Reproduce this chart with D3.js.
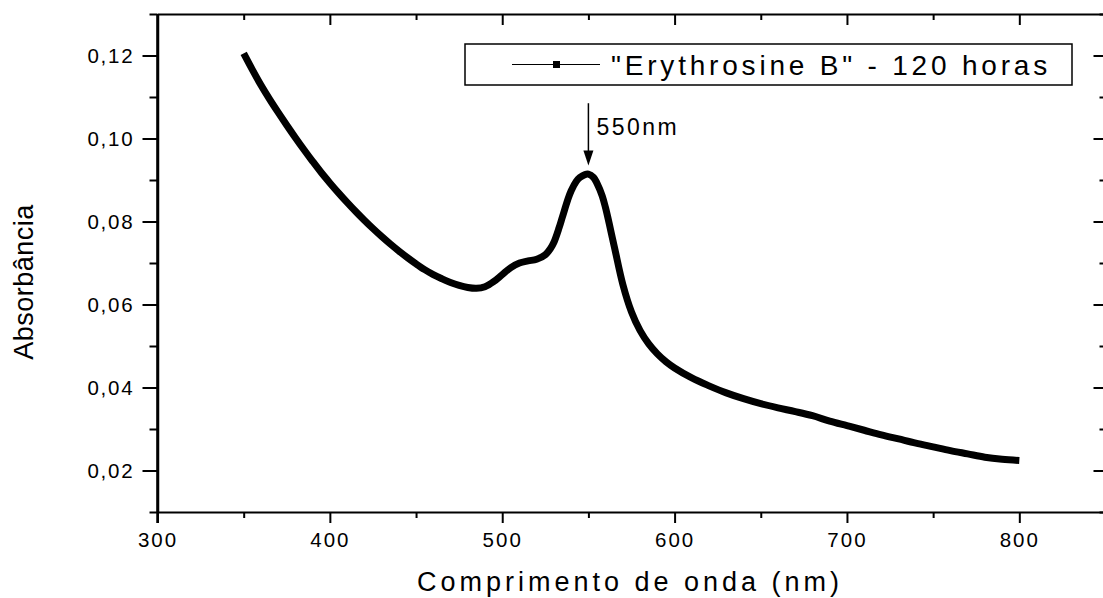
<!DOCTYPE html>
<html>
<head>
<meta charset="utf-8">
<script src="https://cdn.jsdelivr.net/npm/d3@7"></script>
<style>
  html, body { margin: 0; padding: 0; background: #fff; }
  svg { display: block; font-family: Arial, "Liberation Sans", sans-serif; }
</style>
</head>
<body>
<svg id="chart" width="1103" height="598"></svg>
<script>
// UV-Vis absorption spectrum, Erythrosine B after 120 h
const wavelength = [
  350, 355, 360, 365, 370, 375, 380, 385, 390, 395,
  400, 405, 410, 415, 420, 425, 430, 435, 440, 445,
  450, 455, 460, 465, 470, 475, 480, 485, 490, 495,
  500, 505, 510, 515, 520, 525, 528, 530, 533, 535,
  538, 540, 543, 545, 548, 550, 553, 555, 558, 560,
  565, 570, 575, 580, 585, 590, 595, 600, 610, 620,
  630, 640, 650, 660, 670, 680, 690, 700, 710, 720,
  730, 740, 750, 760, 770, 780, 790, 800
];
const absorbance = [
  0.1205, 0.1166, 0.1129, 0.1095, 0.1063, 0.1032, 0.1002, 0.0973, 0.0945, 0.0918,
  0.0893, 0.0869, 0.0846, 0.0824, 0.0803, 0.0783, 0.0764, 0.0746, 0.0729, 0.0713,
  0.0698, 0.0684, 0.0672, 0.0662, 0.0653, 0.0646, 0.0641, 0.0639, 0.0643, 0.0655,
  0.0672, 0.0689, 0.0700, 0.0705, 0.0709, 0.0720, 0.0735, 0.0750, 0.0785, 0.0812,
  0.0852, 0.0874, 0.0897, 0.0906, 0.0913, 0.0914, 0.0906, 0.0892, 0.0862, 0.0832,
  0.0740, 0.0648, 0.0582, 0.0537, 0.0505, 0.0481, 0.0462, 0.0447, 0.0423, 0.0404,
  0.0387, 0.0373, 0.0361, 0.0351, 0.0342, 0.0332, 0.0319, 0.0308, 0.0297, 0.0286,
  0.0276, 0.0266, 0.0257, 0.0248, 0.0240, 0.0232, 0.0227, 0.0224
];

const xMajorTicks = [300, 400, 500, 600, 700, 800];
const xMinorTicks = [350, 450, 550, 650, 750, 850];
const yMajorTicks = [0.02, 0.04, 0.06, 0.08, 0.10, 0.12];
const yMinorTicks = [0.01, 0.03, 0.05, 0.07, 0.09, 0.11, 0.13];
const yTickLabels = ["0,02", "0,04", "0,06", "0,08", "0,10", "0,12"];

const seriesName = "\"Erythrosine B\" - 120 horas";
const xTitle = "Comprimento de onda (nm)";
const yTitle = "Absorbância";
const peakLabel = "550nm";
const peakWavelength = 550;
const arrowFrom = 0.1085;
const arrowTo = 0.0935;

const svg = d3.select("#chart");
const plotLeft = 157.5, plotRight = 1105.5, plotTop = 14, plotBottom = 512;

const x = d3.scaleLinear().domain([300, 850]).range([plotLeft, plotRight]);
const y = d3.scaleLinear().domain([0.01, 0.13]).range([plotBottom, plotTop]);

const fontStack = "Arial, 'Liberation Sans', sans-serif";

function styleAxis(g, width) {
  g.selectAll(".domain").attr("stroke", "#000").attr("stroke-width", width);
  g.selectAll(".tick line").attr("stroke", "#000").attr("stroke-width", 2);
}

// bottom axis
const gxB = svg.append("g").attr("transform", `translate(0,${plotBottom})`);
gxB.call(d3.axisBottom(x).tickValues(xMajorTicks).tickSize(11).tickSizeOuter(0)
  .tickPadding(9).tickFormat(d3.format("d")));
gxB.selectAll(".tick text")
  .attr("font-size", 20.5).attr("font-family", fontStack).attr("fill", "#000")
  .style("letter-spacing", "2px");
gxB.append("g").call(d3.axisBottom(x).tickValues(xMinorTicks).tickSize(6).tickFormat(""))
  .call(g => g.select(".domain").remove());
styleAxis(gxB, 2);

// top axis, ticks pointing inward
const gxT = svg.append("g").attr("transform", `translate(0,${plotTop})`);
gxT.call(d3.axisBottom(x).tickValues(xMajorTicks).tickSize(11).tickSizeOuter(0).tickFormat(""));
gxT.append("g").call(d3.axisBottom(x).tickValues(xMinorTicks).tickSize(6).tickFormat(""))
  .call(g => g.select(".domain").remove());
styleAxis(gxT, 2);

// left axis
const gyL = svg.append("g").attr("transform", `translate(${plotLeft},0)`);
gyL.call(d3.axisLeft(y).tickValues(yMajorTicks).tickSize(15).tickSizeOuter(0).tickPadding(8)
  .tickFormat((d, i) => yTickLabels[i]));
gyL.selectAll(".tick text")
  .attr("font-size", 20.5).attr("font-family", fontStack).attr("fill", "#000")
  .style("letter-spacing", "1.8px");
gyL.append("g").call(d3.axisLeft(y).tickValues(yMinorTicks).tickSize(8).tickFormat(""))
  .call(g => g.select(".domain").remove());
styleAxis(gyL, 2.5);
// left spine reaches down to the bottom tick
gyL.append("line").attr("x1", 0).attr("x2", 0).attr("y1", plotTop).attr("y2", plotBottom + 11)
  .attr("stroke", "#000").attr("stroke-width", 2.5);

// right axis, ticks pointing inward
const gyR = svg.append("g").attr("transform", `translate(${plotRight},0)`);
gyR.call(d3.axisLeft(y).tickValues(yMajorTicks).tickSize(12).tickSizeOuter(0).tickFormat(""));
gyR.append("g").call(d3.axisLeft(y).tickValues(yMinorTicks).tickSize(6).tickFormat(""))
  .call(g => g.select(".domain").remove());
styleAxis(gyR, 2);

// spectrum
const points = wavelength.map((w, i) => [w, absorbance[i]]);
svg.append("path")
  .datum(points)
  .attr("fill", "none")
  .attr("stroke", "#000")
  .attr("stroke-width", 7)
  .attr("stroke-linejoin", "round")
  .attr("d", d3.line().x(d => x(d[0])).y(d => y(d[1])).curve(d3.curveCatmullRom.alpha(0.5)));

// peak marker arrow
const ax = x(peakWavelength);
svg.append("line")
  .attr("x1", ax).attr("x2", ax)
  .attr("y1", y(arrowFrom)).attr("y2", y(arrowTo) - 14)
  .attr("stroke", "#000").attr("stroke-width", 1.5);
svg.append("path")
  .attr("d", `M${ax - 5},${y(arrowTo) - 15} L${ax + 5},${y(arrowTo) - 15} L${ax},${y(arrowTo)} Z`)
  .attr("fill", "#000");
svg.append("text")
  .attr("x", ax + 8).attr("y", 135)
  .attr("font-size", 23).attr("font-family", fontStack)
  .style("letter-spacing", "2.5px")
  .text(peakLabel);

// legend
const legend = svg.append("g");
legend.append("rect").attr("x", 465).attr("y", 44).attr("width", 607).attr("height", 41)
  .attr("fill", "#fff").attr("stroke", "#000").attr("stroke-width", 1.5);
legend.append("line").attr("x1", 512).attr("x2", 600).attr("y1", 64.5).attr("y2", 64.5)
  .attr("stroke", "#000").attr("stroke-width", 1);
legend.append("rect").attr("x", 553).attr("y", 61).attr("width", 7).attr("height", 7).attr("fill", "#000");
legend.append("text").attr("x", 611).attr("y", 75)
  .attr("font-size", 28).attr("font-family", fontStack)
  .style("letter-spacing", "3.8px")
  .text(seriesName);

// axis titles
svg.append("text")
  .attr("x", 630).attr("y", 591).attr("text-anchor", "middle")
  .attr("font-size", 27).attr("font-family", fontStack)
  .style("letter-spacing", "4px")
  .text(xTitle);
svg.append("text")
  .attr("transform", "translate(33,282) rotate(-90)")
  .attr("text-anchor", "middle")
  .attr("font-size", 27).attr("font-family", fontStack)
  .style("letter-spacing", "0.5px")
  .text(yTitle);
</script>
</body>
</html>
